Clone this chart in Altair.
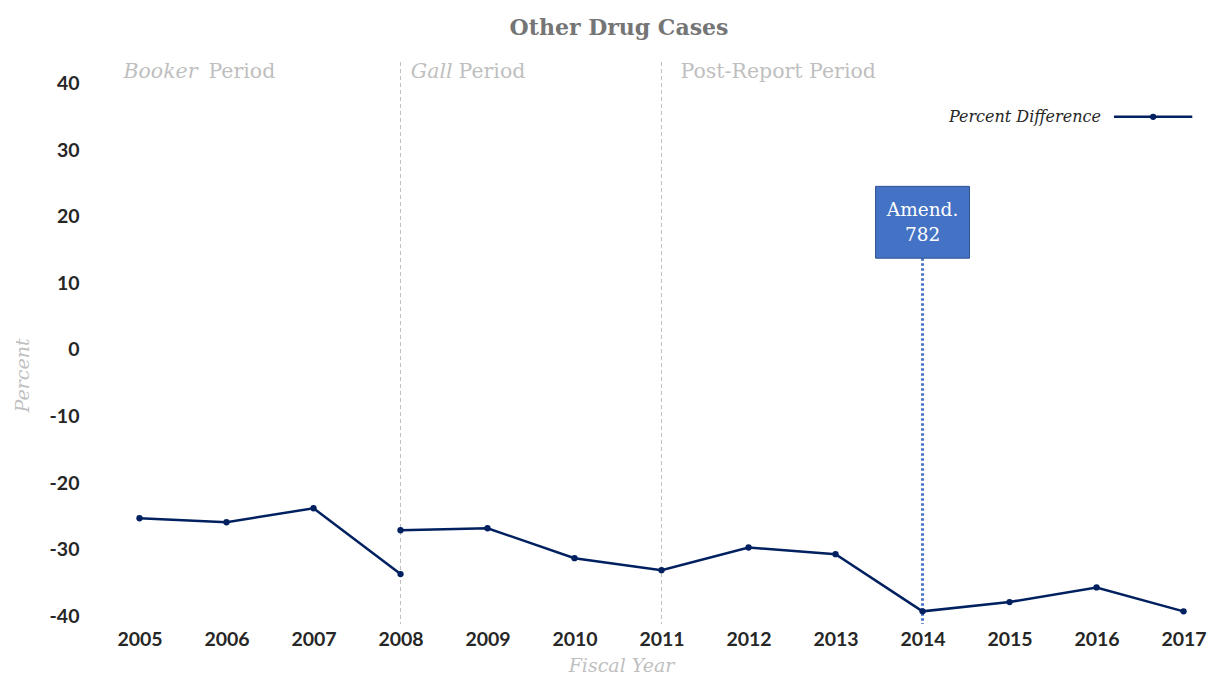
import altair as alt
import pandas as pd

# ---- data ----
years_pre = [2005, 2006, 2007, 2008]
values_pre = [-25.3, -25.9, -23.8, -33.7]
years_post = [2008, 2009, 2010, 2011, 2012, 2013, 2014, 2015, 2016, 2017]
values_post = [-27.1, -26.8, -31.3, -33.1, -29.7, -30.7, -39.3, -37.9, -35.7, -39.3]

period_break_years = [2008, 2011]
amend_year = 2014
amend_label = "Amend.\n782"

# ---- layout constants (scales) ----
X_DOMAIN = [2004.5, 2017.12]
Y_DOMAIN = [-41.2, 43.3]
Y_TICKS = [-40, -30, -20, -10, 0, 10, 20, 30, 40]
SERIF = "DejaVu Serif"
SANS = "Lato"
NAVY = "#002060"
BLUE = "#4472C4"

line_df = pd.DataFrame({
    "year": years_pre + years_post,
    "value": values_pre + values_post,
    "segment": ["pre"] * len(years_pre) + ["post"] * len(years_post),
})

xscale = alt.Scale(domain=X_DOMAIN, nice=False, zero=False)
yscale = alt.Scale(domain=Y_DOMAIN, nice=False, zero=False)

xaxis = alt.Axis(
    values=list(range(2005, 2018)), format="d", title="Fiscal Year",
    labelFont=SANS, labelFontWeight="bold", labelFontSize=19.5, labelColor="#262626",
    labelPadding=6, ticks=False, domain=False, grid=False,
    titleFont=SERIF, titleFontStyle="italic", titleFontWeight="normal", titleFontSize=19,
    titleColor="#BFBFBF", titleX=525, titleY=41, titleBaseline="middle", titleAnchor=None,
)
yaxis = alt.Axis(
    values=Y_TICKS, format="d", title="Percent",
    labelExpr="replace(datum.label, '\u2212', '-')",
    labelFont=SANS, labelFontWeight="bold", labelFontSize=19.5, labelColor="#262626",
    labelPadding=17, ticks=False, domain=False, grid=False,
    titleFont=SERIF, titleFontStyle="italic", titleFontWeight="normal", titleFontSize=19,
    titleColor="#BFBFBF", titleX=-74, titleY=313, titleBaseline="middle", titleAngle=-90,
)

def X(field="year"):
    return alt.X(field, type="quantitative", scale=xscale, axis=xaxis)

def Y(field="value"):
    return alt.Y(field, type="quantitative", scale=yscale, axis=yaxis)

# period separator rules
rules_df = pd.DataFrame({"year": period_break_years})
period_rules = alt.Chart(rules_df).mark_rule(
    color="#BFBFBF", strokeDash=[4, 3], strokeWidth=1
).encode(x=X())

# period labels (italic name + regular "Period")
lab_df = pd.DataFrame({
    "year": [2005, 2005, 2008, 2008, 2011],
    "value": [41.8] * 5,
    "text": ["Booker", "Period", "Gall", "Period", "Post-Report Period"],
    "style": ["italic", "normal", "italic", "normal", "normal"],
    "align": ["right", "left", "right", "left", "left"],
    "dx": [58, 69, 52, 58, 19],
})
label_layers = []
for _, r in lab_df.iterrows():
    label_layers.append(
        alt.Chart(pd.DataFrame([r])).mark_text(
            font=SERIF, fontSize=20.5, fontStyle=r["style"], color="#BFBFBF",
            align=r["align"], baseline="middle", dx=int(r["dx"]),
        ).encode(x=X(), y=Y(), text="text:N")
    )

# Amendment marker
amend_rule_df = pd.DataFrame({"year": [amend_year], "value": [13.8], "value2": [Y_DOMAIN[0]]})
amend_rule = alt.Chart(amend_rule_df).mark_rule(
    color=BLUE, strokeDash=[2.5, 2.5], strokeWidth=3
).encode(x=X(), y=Y(), y2=alt.Y2("value2"))

amend_box_df = pd.DataFrame({"year": [amend_year - 0.54], "year2": [amend_year + 0.54],
                             "value": [24.6], "value2": [13.8]})
amend_box = alt.Chart(amend_box_df).mark_rect(
    fill=BLUE, stroke="#2F528F", strokeWidth=1
).encode(x=X(), x2=alt.X2("year2"), y=Y(), y2=alt.Y2("value2"))

amend_text_df = pd.DataFrame({"year": [amend_year], "value": [21.0], "text": [amend_label]})
amend_text = alt.Chart(amend_text_df).mark_text(
    font=SERIF, fontSize=18.5, color="white", lineBreak="\n", align="center",
    baseline="middle", lineHeight=25,
).encode(x=X(), y=Y(), text="text:N")

# main series
line = alt.Chart(line_df).mark_line(color=NAVY, strokeWidth=2.5).encode(
    x=X(), y=Y(), detail="segment:N"
)
pts = alt.Chart(line_df).mark_circle(color=NAVY, size=40, opacity=1).encode(x=X(), y=Y())

# manual legend (label to the left of the symbol)
leg_text_df = pd.DataFrame({"year": [2016.05], "value": [35.06], "text": ["Percent Difference"]})
leg_text = alt.Chart(leg_text_df).mark_text(
    font=SERIF, fontSize=16, fontStyle="italic", color="#262626", align="right", baseline="middle"
).encode(x=X(), y=Y(), text="text:N")
leg_line_df = pd.DataFrame({"year": [2016.2], "year2": [2017.1], "value": [35.06]})
leg_line = alt.Chart(leg_line_df).mark_rule(color=NAVY, strokeWidth=2.5).encode(
    x=X(), x2=alt.X2("year2"), y=Y()
)
leg_pt_df = pd.DataFrame({"year": [2016.65], "value": [35.06]})
leg_pt = alt.Chart(leg_pt_df).mark_circle(color=NAVY, size=40, opacity=1).encode(x=X(), y=Y())

chart = alt.layer(
    period_rules, *label_layers, amend_rule, amend_box, amend_text, line, pts,
    leg_text, leg_line, leg_pt,
).properties(
    width=1098, height=562,
    title=alt.TitleParams(
        "Other Drug Cases", font=SERIF, fontSize=22, fontWeight="bold", color="#757575",
        anchor="middle", dx=-26, offset=22,
    ),
    autosize=alt.AutoSizeParams(type="none"),
    padding={"left": 88, "top": 54, "right": 14, "bottom": 50},
    background="white",
).configure_view(stroke=None)

chart.save("out.html", embed_options={"renderer": "svg", "actions": False})
